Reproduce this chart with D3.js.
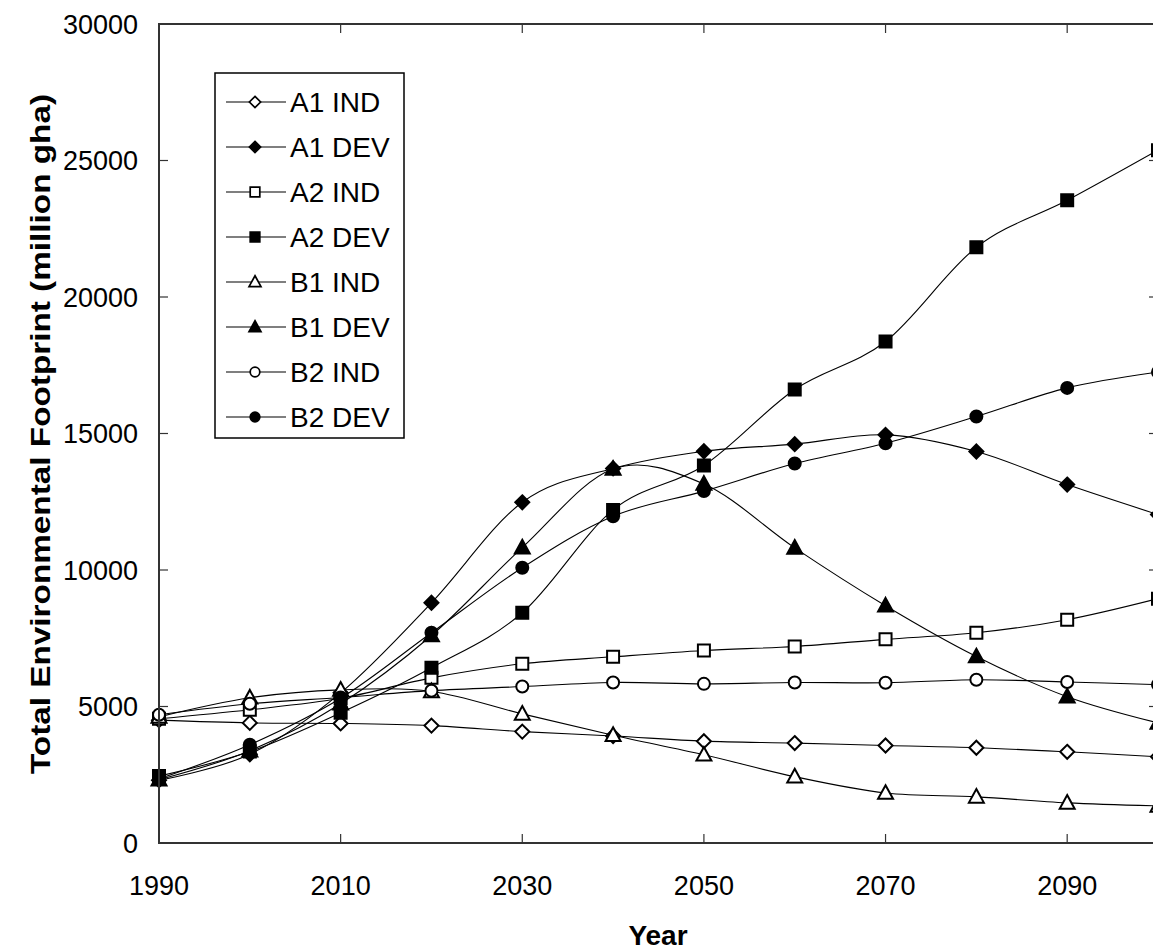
<!DOCTYPE html>
<html>
<head>
<meta charset="utf-8">
<script src="https://cdn.jsdelivr.net/npm/d3@7"></script>
<style>
body { margin: 0; background: #fff; }
svg { display: block; font-family: "Liberation Sans", Arial, sans-serif; }
</style>
</head>
<body>
<div id="chart"></div>
<script>
// values (million gha)
const years = [1990, 2000, 2010, 2020, 2030, 2040, 2050, 2060, 2070, 2080, 2090, 2100]
const a1Ind = [4500, 4400, 4380, 4300, 4080, 3920, 3730, 3660, 3570, 3490, 3340, 3160]
const a1Dev = [2300, 3250, 5500, 8800, 12480, 13720, 14350, 14610, 14950, 14340, 13130, 12030]
const a2Ind = [4550, 4880, 5300, 6050, 6565, 6820, 7050, 7200, 7460, 7700, 8180, 8950]
const a2Dev = [2450, 3350, 4770, 6420, 8435, 12200, 13830, 16610, 18370, 21820, 23540, 25380]
const b1Ind = [4620, 5320, 5610, 5550, 4730, 3950, 3230, 2430, 1830, 1690, 1470, 1360]
const b1Dev = [2320, 3380, 5100, 7600, 10820, 13700, 13150, 10810, 8690, 6830, 5360, 4400]
const b2Ind = [4700, 5100, 5330, 5580, 5730, 5880, 5830, 5880, 5870, 5980, 5900, 5800]
const b2Dev = [2350, 3600, 5300, 7700, 10085, 11970, 12890, 13900, 14640, 15620, 16670, 17250]

const seriesNames = ["A1 IND", "A1 DEV", "A2 IND", "A2 DEV", "B1 IND", "B1 DEV", "B2 IND", "B2 DEV"]
const seriesValues = [a1Ind, a1Dev, a2Ind, a2Dev, b1Ind, b1Dev, b2Ind, b2Dev]
const markerShapes = ["diamond", "diamond", "square", "square", "triangle", "triangle", "circle", "circle"]
const markerFilled = [false, true, false, true, false, true, false, true]

const yTicks = [0, 5000, 10000, 15000, 20000, 25000, 30000]
const xTickMarks = [2010, 2030, 2050, 2070, 2090]
const xTickLabels = [1990, 2010, 2030, 2050, 2070, 2090]

const width = 1153
const height = 951
const plot = { left: 159, top: 24, right: 1158, bottom: 843 }

const x = d3.scaleLinear().domain([1990, 2100]).range([plot.left, plot.right])
const y = d3.scaleLinear().domain([0, 30000]).range([plot.bottom, plot.top])

// marker outline for a shape, r is half its size
function markerPath(shape, r) {
    if (shape == "diamond") return `M0,${-r}L${r},0L0,${r}L${-r},0Z`
    if (shape == "square") return `M${-r},${-r}H${r}V${r}H${-r}Z`
    if (shape == "triangle") return `M0,${-r * 1.15}L${r * 1.1},${r * 0.85}L${-r * 1.1},${r * 0.85}Z`
    return `M${r},0A${r},${r} 0 1,1 ${-r},0A${r},${r} 0 1,1 ${r},0Z`
}
const markerSize = { diamond: 7, square: 6, triangle: 6.8, circle: 6 }

const svg = d3.select("#chart")
    .append("svg")
    .attr("width", width)
    .attr("height", height)

const line = d3.line()
    .x((d, i) => x(years[i]))
    .y(d => y(d))
    .curve(d3.curveCardinal.tension(0))

// series: line first, then its markers
seriesValues.forEach((values, s) => {
    const g = svg.append("g")
    g.append("path")
        .attr("d", line(values))
        .attr("fill", "none")
        .attr("stroke", "#000")
        .attr("stroke-width", 1.1)
    g.selectAll("path.mark")
        .data(values)
        .join("path")
        .attr("class", "mark")
        .attr("transform", (d, i) => `translate(${x(years[i])},${y(d)})`)
        .attr("d", markerPath(markerShapes[s], markerSize[markerShapes[s]]))
        .attr("fill", markerFilled[s] ? "#000" : "#fff")
        .attr("stroke", "#000")
        .attr("stroke-width", 2)
})

// frame and inside ticks
const frame = svg.append("g")
    .attr("stroke", "#333")
    .attr("fill", "none")
frame.append("rect")
    .attr("x", plot.left)
    .attr("y", plot.top)
    .attr("width", plot.right - plot.left)
    .attr("height", plot.bottom - plot.top)
    .attr("stroke-width", 2)
frame.selectAll("line.yt")
    .data(yTicks.slice(1, -1))
    .join("line")
    .attr("class", "yt")
    .attr("x1", plot.left).attr("x2", plot.left + 9)
    .attr("y1", d => y(d)).attr("y2", d => y(d))
    .attr("stroke-width", 1.2)
frame.selectAll("line.yr")
    .data(yTicks.slice(1, -1))
    .join("line")
    .attr("class", "yr")
    .attr("x1", plot.right - 9).attr("x2", plot.right)
    .attr("y1", d => y(d)).attr("y2", d => y(d))
    .attr("stroke-width", 1.2)
frame.selectAll("line.xb")
    .data(xTickMarks)
    .join("line")
    .attr("class", "xb")
    .attr("x1", d => x(d)).attr("x2", d => x(d))
    .attr("y1", plot.bottom - 9).attr("y2", plot.bottom)
    .attr("stroke-width", 1.2)
frame.selectAll("line.xt")
    .data(xTickMarks)
    .join("line")
    .attr("class", "xt")
    .attr("x1", d => x(d)).attr("x2", d => x(d))
    .attr("y1", plot.top).attr("y2", plot.top + 9)
    .attr("stroke-width", 1.2)

// tick labels
svg.append("g")
    .selectAll("text")
    .data(yTicks)
    .join("text")
    .attr("x", 138)
    .attr("y", d => y(d))
    .attr("dy", "0.36em")
    .attr("text-anchor", "end")
    .attr("font-size", 27)
    .text(d => d)

svg.append("g")
    .selectAll("text")
    .data(xTickLabels)
    .join("text")
    .attr("x", d => x(d))
    .attr("y", 895)
    .attr("text-anchor", "middle")
    .attr("font-size", 27)
    .text(d => d)

// axis titles
svg.append("text")
    .attr("x", 658)
    .attr("y", 945)
    .attr("text-anchor", "middle")
    .attr("font-size", 28)
    .attr("font-weight", "bold")
    .text("Year")

svg.append("text")
    .attr("transform", "translate(50,434) rotate(-90)")
    .attr("text-anchor", "middle")
    .attr("font-size", 28)
    .attr("font-weight", "bold")
    .attr("textLength", 680)
    .attr("lengthAdjust", "spacingAndGlyphs")
    .text("Total Environmental Footprint (million gha)")

// legend
const legend = svg.append("g")
legend.append("rect")
    .attr("x", 215)
    .attr("y", 73)
    .attr("width", 189)
    .attr("height", 365)
    .attr("fill", "#fff")
    .attr("stroke", "#000")
    .attr("stroke-width", 1.5)

const item = legend.selectAll("g")
    .data(seriesNames)
    .join("g")
    .attr("transform", (d, i) => `translate(0,${102 + i * 45})`)
item.append("line")
    .attr("x1", 226).attr("x2", 286)
    .attr("stroke", "#000")
    .attr("stroke-width", 1.1)
item.append("path")
    .attr("transform", "translate(255,0)")
    .attr("d", (d, i) => markerPath(markerShapes[i], markerSize[markerShapes[i]] * 0.8))
    .attr("fill", (d, i) => markerFilled[i] ? "#000" : "#fff")
    .attr("stroke", "#000")
    .attr("stroke-width", 1.7)
item.append("text")
    .attr("x", 290)
    .attr("y", 10)
    .attr("font-size", 28)
    .text(d => d)
</script>
</body>
</html>
